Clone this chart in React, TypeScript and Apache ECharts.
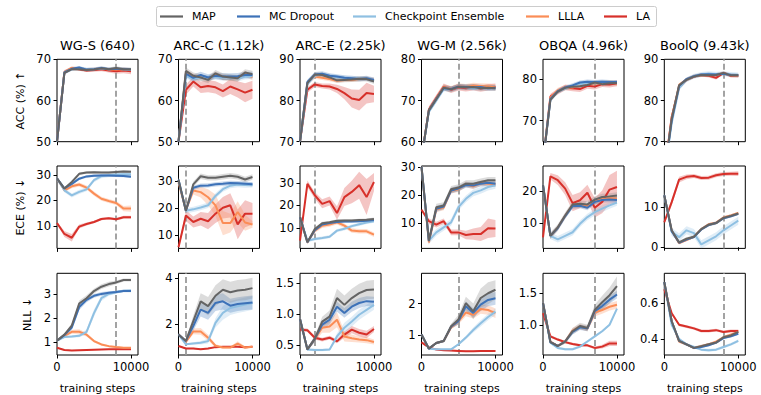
import React, { useEffect, useRef } from "react";
import * as echarts from "echarts";

const STEPS = [0, 1000, 2000, 3000, 4000, 5000, 6000, 7000, 8000, 9000, 10000];
const METHODS = ["MAP", "MC Dropout", "Checkpoint Ensemble", "LLLA", "LA"];
const KEYS = ["map", "mc", "ce", "llla", "la"];
const COLORS = ["#646464", "#3d72b8", "#8fc0e2", "#fb8d56", "#d7302a"];
const BAND_COLORS = ["#8c8c8c", "#3d72b8", "#8fc0e2", "#fb8d56", "#d7302a"];
const DATASETS = ["WG-S (640)", "ARC-C (1.12k)", "ARC-E (2.25k)", "WG-M (2.56k)", "OBQA (4.96k)", "BoolQ (9.43k)"];
const BEST_STEP = [8000, 1000, 2000, 5000, 7000, 8000];
const ROW_LABELS = ["ACC (%) ↑", "ECE (%) ↓", "NLL ↓"];
const X_TICKS = [0, 10000];

// ---------- ACC ----------
const accWGS = {
  map: [50, 66.7, 67.6, 67.6, 67.4, 67.5, 67.8, 67.6, 67.9, 67.6, 67.6],
  mc: [50, 66.8, 67.7, 68.0, 67.5, 67.6, 67.9, 67.6, 67.7, 67.6, 67.5],
  ce: [50, 66.8, 67.6, 67.8, 67.6, 67.6, 67.8, 67.6, 67.7, 67.6, 67.5],
  llla: [50, 66.9, 67.9, 67.7, 67.5, 67.6, 67.8, 67.5, 67.6, 67.5, 67.4],
  la: [50, 66.9, 67.8, 67.6, 67.3, 67.4, 67.6, 67.3, 67.1, 67.3, 67.1],
};
const accARCC = {
  map: [50, 67.2, 66.0, 65.6, 65.0, 66.6, 65.8, 65.6, 65.4, 66.8, 66.4],
  mc: [50, 66.5, 65.5, 66.2, 65.6, 66.0, 65.8, 65.8, 65.9, 66.2, 66.2],
  ce: [50, 66.0, 65.3, 65.5, 65.5, 65.8, 65.5, 65.6, 65.3, 65.8, 65.9],
  llla: [50, 66.8, 65.8, 65.6, 65.2, 66.3, 65.6, 65.5, 65.3, 66.5, 65.6],
  la: [50, 62.6, 64.6, 63.2, 63.5, 63.2, 62.3, 63.4, 62.7, 61.9, 62.6],
};
const accARCE = {
  map: [70, 84.2, 86.3, 86.2, 85.6, 84.9, 85.0, 85.1, 85.3, 85.2, 84.6],
  mc: [70, 84.5, 86.3, 86.5, 86.0, 85.8, 85.5, 85.4, 85.2, 85.4, 85.0],
  ce: [70, 84.0, 86.0, 86.3, 86.0, 85.7, 85.5, 85.3, 85.3, 85.3, 85.0],
  llla: [70, 84.3, 85.8, 85.5, 85.2, 84.8, 85.0, 85.0, 85.2, 85.3, 85.0],
  la: [70, 82.6, 83.9, 83.5, 83.4, 82.8, 81.8, 80.5, 80.1, 81.8, 81.6],
};
const accWGM = {
  map: [56, 67.6, 70.3, 73.1, 72.7, 73.3, 73.2, 73.3, 73.0, 73.1, 73.0],
  mc: [56, 67.6, 70.4, 73.0, 72.8, 73.4, 73.3, 73.2, 73.3, 73.0, 73.1],
  ce: [56, 67.3, 70.0, 72.8, 72.7, 73.3, 73.2, 73.0, 73.1, 73.0, 73.0],
  llla: [56, 67.7, 70.5, 73.2, 72.8, 73.5, 73.3, 73.6, 73.5, 73.4, 73.2],
  la: [56, 67.8, 70.6, 73.3, 72.6, 73.2, 73.0, 73.2, 72.9, 73.2, 73.3],
};
const accOBQA = {
  map: [60, 75.0, 77.0, 77.9, 78.2, 78.3, 78.6, 79.2, 78.8, 79.0, 79.1],
  mc: [60, 75.2, 77.1, 78.0, 78.5, 79.2, 79.4, 79.3, 79.4, 79.3, 79.3],
  ce: [60, 75.0, 77.0, 77.8, 78.3, 78.8, 79.0, 79.2, 79.3, 79.2, 79.2],
  llla: [60, 75.5, 77.3, 78.0, 78.0, 78.6, 78.8, 79.0, 79.0, 79.2, 79.0],
  la: [60, 75.8, 77.0, 78.0, 77.8, 77.6, 78.4, 78.2, 78.8, 78.7, 79.0],
};
const accBoolQ = {
  map: [62, 75.5, 83.7, 85.0, 85.8, 86.2, 86.1, 86.2, 86.7, 86.1, 86.1],
  mc: [62, 75.2, 83.5, 85.2, 85.9, 86.3, 86.4, 86.3, 86.5, 86.2, 86.1],
  ce: [62, 74.5, 83.0, 85.0, 85.9, 86.3, 86.5, 86.4, 86.5, 86.3, 86.2],
  llla: [62, 75.8, 83.8, 85.1, 85.9, 86.2, 86.1, 86.2, 86.6, 86.1, 86.0],
  la: [62, 76.0, 83.2, 85.0, 85.8, 86.2, 86.0, 85.5, 86.7, 86.0, 86.0],
};
const accWGS_band = [0.4, 0.4, 0.4, 0.4, [0.6, 0.5, 0.4, 0.4, 0.4, 0.4, 0.5, 0.5, 0.6, 0.7, 0.7]];
const accARCC_band = [0.8, 0.8, 0.7, 0.7, [0.5, 1.2, 1.2, 1.4, 1.5, 1.5, 1.6, 1.8, 2.0, 2.3, 2.2]];
const accARCE_band = [0.6, 0.6, 0.5, 0.5, [0.5, 0.7, 0.6, 0.6, 0.7, 1.0, 1.5, 2.2, 2.5, 2.5, 2.0]];
const accWGM_band = [0.7, 0.6, 0.6, 0.7, 0.8];
const accOBQA_band = [0.5, 0.5, 0.5, 0.6, 0.7];
const accBoolQ_band = [0.4, 0.4, 0.6, 0.4, 0.4];

// ---------- ECE ----------
const eceWGS = {
  map: [28.7, 24.7, 27.3, 30.5, 31.0, 31.1, 31.0, 31.0, 31.2, 31.4, 31.3],
  mc: [28.7, 24.8, 26.5, 28.6, 29.5, 29.8, 29.9, 29.9, 29.8, 29.7, 29.4],
  ce: [28.7, 24.0, 22.0, 23.4, 24.4, 28.0, 29.6, 30.0, 30.2, 30.3, 30.3],
  llla: [28.7, 24.0, 25.6, 26.3, 25.1, 22.7, 20.7, 19.8, 19.0, 16.8, 16.8],
  la: [11.1, 6.8, 5.3, 9.7, 10.7, 11.5, 12.7, 13.0, 12.6, 13.4, 13.4],
};
const eceARCC = {
  map: [30.5, 19.0, 28.8, 31.8, 31.2, 31.2, 31.6, 32.0, 31.6, 30.6, 31.5],
  mc: [30.5, 19.0, 27.5, 28.3, 28.4, 28.8, 29.0, 29.3, 29.2, 29.0, 28.8],
  ce: [30.5, 19.0, 19.5, 20.2, 21.0, 24.5, 27.0, 28.3, 28.7, 28.5, 28.6],
  llla: [29.5, 19.2, 26.5, 25.9, 24.0, 21.0, 14.4, 14.4, 18.5, 14.6, 13.9],
  la: [5.4, 17.2, 14.8, 16.0, 15.1, 17.9, 20.1, 21.0, 13.9, 17.9, 17.9],
};
const eceARCE = {
  map: [14.8, 3.6, 9.5, 12.1, 12.5, 13.2, 13.3, 13.3, 13.5, 13.6, 14.0],
  mc: [14.8, 3.6, 9.0, 11.5, 12.2, 12.6, 12.8, 12.9, 13.0, 13.2, 13.5],
  ce: [14.8, 4.3, 5.1, 5.5, 6.1, 8.8, 9.6, 10.8, 11.6, 12.4, 13.0],
  llla: [14.8, 3.6, 8.8, 11.0, 11.5, 12.5, 11.0, 8.8, 8.5, 8.5, 7.0],
  la: [4.3, 29.6, 24.5, 20.7, 21.9, 16.6, 23.7, 26.0, 29.0, 23.7, 30.4],
};
const eceWGM = {
  map: [30, 3.7, 15.6, 16.2, 22.0, 22.6, 24.0, 24.0, 24.6, 25.2, 25.2],
  mc: [30, 3.5, 15.0, 15.8, 21.5, 22.3, 23.5, 23.3, 24.0, 24.3, 24.0],
  ce: [30, 3.7, 6.6, 8.4, 10.2, 15.6, 18.6, 20.7, 21.6, 22.8, 23.4],
  llla: [30, 3.0, 14.8, 15.5, 21.5, 22.0, 23.8, 23.0, 24.2, 24.0, 23.8],
  la: [14.7, 10.6, 9.4, 10.6, 6.6, 6.6, 5.7, 6.0, 6.0, 8.1, 8.0],
};
const eceOBQA = {
  map: [21.8, 6.1, 8.7, 12.4, 15.8, 16.0, 15.8, 17.3, 18.1, 18.3, 18.6],
  mc: [21.8, 6.1, 8.5, 12.2, 15.3, 15.4, 14.8, 16.6, 17.2, 17.3, 17.2],
  ce: [21.8, 6.1, 5.0, 6.1, 7.2, 9.8, 11.9, 13.4, 14.5, 15.5, 16.4],
  llla: [21.8, 6.0, 8.6, 12.3, 15.6, 15.6, 15.3, 16.8, 17.5, 17.8, 17.6],
  la: [5.6, 24.5, 23.3, 20.7, 16.2, 17.1, 19.4, 14.8, 16.6, 20.4, 21.2],
};
const eceBoolQ = {
  map: [12.9, 4.2, 1.2, 2.1, 2.6, 4.5, 5.6, 6.0, 7.3, 7.8, 8.4],
  mc: [12.9, 4.0, 1.1, 1.9, 2.5, 4.4, 5.5, 6.0, 7.2, 7.7, 8.3],
  ce: [12.9, 3.8, 2.5, 4.2, 3.5, 0.7, 1.7, 2.7, 4.2, 5.4, 6.6],
  llla: [12.9, 4.1, 1.0, 1.8, 2.6, 4.5, 5.7, 6.1, 7.4, 7.9, 8.5],
  la: [6.2, 11.2, 16.8, 17.5, 17.7, 17.2, 17.3, 17.9, 18.2, 18.3, 18.3],
};
const eceWGS_band = [0.5, 0.5, 0.8, [0.3, 0.8, 0.8, 0.8, 0.8, 0.8, 0.8, 0.8, 0.8, 1.0, 1.2], [0.5, 1.2, 1.5, 0.8, 0.6, 0.5, 0.5, 0.5, 0.5, 0.6, 0.6]];
const eceARCC_band = [1.0, 0.8, 1.0, [0.5, 1.0, 1.5, 2.0, 3.0, 4.0, 4.5, 3.5, 4.0, 3.0, 1.2], [0.5, 2.0, 2.0, 2.5, 3.0, 3.5, 4.0, 4.5, 5.5, 5.0, 4.0]];
const eceARCE_band = [0.6, 0.6, 0.7, 1.0, [0.5, 1.5, 1.5, 2.0, 2.0, 3.0, 4.0, 5.0, 6.0, 8.0, 4.0]];
const eceWGM_band = [1.2, 1.0, 1.2, 1.0, [0.5, 1.0, 1.0, 1.0, 1.0, 1.0, 1.5, 2.0, 2.5, 3.5, 3.0]];
const eceOBQA_band = [1.0, 0.8, 1.0, 0.8, [0.5, 1.0, 1.5, 2.0, 2.5, 2.5, 2.5, 3.0, 3.5, 4.5, 5.0]];
const eceBoolQ_band = [0.4, 0.3, 1.0, 0.3, [0.5, 0.8, 0.7, 0.6, 0.5, 0.5, 0.5, 0.5, 0.5, 0.5, 0.6]];

// ---------- NLL ----------
const nllWGS = {
  map: [1.05, 1.3, 1.68, 2.6, 2.82, 3.12, 3.3, 3.41, 3.48, 3.58, 3.58],
  mc: [1.05, 1.28, 1.6, 2.45, 2.75, 2.92, 3.0, 3.05, 3.08, 3.12, 3.12],
  ce: [1.05, 1.2, 1.22, 1.25, 1.42, 2.2, 2.82, 3.0, 3.07, 3.13, 3.14],
  llla: [1.05, 1.25, 1.42, 1.42, 1.3, 1.03, 0.89, 0.82, 0.78, 0.75, 0.75],
  la: [0.75, 0.66, 0.64, 0.65, 0.66, 0.67, 0.68, 0.69, 0.69, 0.69, 0.69],
};
const nllARCC = {
  map: [1.57, 1.29, 2.14, 3.0, 2.79, 3.24, 3.5, 3.39, 3.47, 3.5, 3.57],
  mc: [1.57, 1.29, 1.93, 2.64, 2.5, 2.93, 3.0, 2.81, 2.88, 2.92, 2.95],
  ce: [1.57, 1.14, 1.18, 1.21, 1.28, 2.07, 2.5, 2.71, 2.79, 2.86, 2.93],
  llla: [1.57, 1.25, 1.7, 1.7, 1.43, 1.08, 1.0, 1.0, 1.17, 1.0, 1.04],
  la: [1.07, 0.96, 0.96, 0.93, 0.96, 1.02, 1.04, 1.04, 1.04, 1.02, 1.04],
};
const nllARCE = {
  map: [0.92, 0.43, 0.6, 0.88, 0.96, 1.26, 1.15, 1.26, 1.34, 1.39, 1.4],
  mc: [0.92, 0.43, 0.6, 0.83, 0.91, 1.12, 1.02, 1.12, 1.18, 1.21, 1.2],
  ce: [0.92, 0.43, 0.42, 0.42, 0.43, 0.64, 0.78, 0.88, 0.99, 1.07, 1.15],
  llla: [0.92, 0.43, 0.6, 0.78, 0.8, 0.91, 0.64, 0.61, 0.59, 0.58, 0.55],
  la: [0.75, 0.74, 0.62, 0.59, 0.62, 0.56, 0.67, 0.75, 0.7, 0.67, 0.76],
};
const nllWGM = {
  map: [1.03, 0.58, 0.76, 0.82, 1.29, 1.5, 2.02, 1.76, 2.18, 2.33, 2.44],
  mc: [1.03, 0.58, 0.76, 0.82, 1.27, 1.45, 1.92, 1.71, 1.97, 2.12, 2.17],
  ce: [1.03, 0.58, 0.56, 0.56, 0.56, 0.72, 0.93, 1.17, 1.38, 1.58, 1.75],
  llla: [1.03, 0.58, 0.76, 0.82, 1.25, 1.45, 1.72, 1.65, 1.83, 1.8, 1.7],
  la: [0.78, 0.62, 0.55, 0.53, 0.52, 0.51, 0.5, 0.5, 0.51, 0.51, 0.51],
};
const nllOBQA = {
  map: [1.35, 0.74, 0.68, 0.75, 0.91, 0.99, 0.96, 1.24, 1.36, 1.47, 1.61],
  mc: [1.35, 0.74, 0.68, 0.75, 0.9, 0.97, 0.95, 1.22, 1.3, 1.4, 1.48],
  ce: [1.35, 0.73, 0.65, 0.63, 0.63, 0.67, 0.75, 0.83, 0.91, 1.01, 1.26],
  llla: [1.35, 0.75, 0.68, 0.75, 0.92, 0.98, 0.95, 1.2, 1.24, 1.29, 1.32],
  la: [1.19, 0.83, 0.78, 0.74, 0.71, 0.69, 0.69, 0.65, 0.67, 0.72, 0.72],
};
const nllBoolQ = {
  map: [0.72, 0.5, 0.39, 0.37, 0.35, 0.36, 0.37, 0.38, 0.41, 0.42, 0.44],
  mc: [0.72, 0.5, 0.39, 0.37, 0.35, 0.355, 0.365, 0.38, 0.405, 0.415, 0.43],
  ce: [0.72, 0.48, 0.4, 0.37, 0.355, 0.34, 0.337, 0.34, 0.355, 0.37, 0.39],
  llla: [0.72, 0.5, 0.385, 0.37, 0.35, 0.36, 0.37, 0.385, 0.41, 0.425, 0.44],
  la: [0.68, 0.545, 0.48, 0.47, 0.46, 0.445, 0.445, 0.45, 0.44, 0.445, 0.445],
};
const nllWGS_band = [
  [0, 0.05, 0.1, 0.12, 0.12, 0.1, 0.1, 0.1, 0.08, 0.06, 0.06],
  [0, 0.05, 0.1, 0.12, 0.1, 0.08, 0.08, 0.06, 0.05, 0.05, 0.05],
  [0, 0.04, 0.05, 0.06, 0.1, 0.15, 0.12, 0.08, 0.06, 0.05, 0.05],
  [0, 0.05, 0.08, 0.1, 0.08, 0.06, 0.05, 0.04, 0.04, 0.03, 0.03],
  0.02,
];
const nllARCC_band = [
  [0.05, 0.05, 0.25, 0.35, 0.4, 0.45, 0.45, 0.45, 0.45, 0.45, 0.45],
  [0.05, 0.05, 0.2, 0.3, 0.3, 0.35, 0.35, 0.3, 0.3, 0.3, 0.3],
  [0.05, 0.04, 0.05, 0.08, 0.1, 0.2, 0.3, 0.3, 0.3, 0.3, 0.3],
  [0.05, 0.05, 0.12, 0.15, 0.12, 0.08, 0.05, 0.05, 0.1, 0.06, 0.05],
  0.03,
];
const nllARCE_band = [
  [0.03, 0.02, 0.05, 0.08, 0.1, 0.15, 0.15, 0.15, 0.15, 0.15, 0.15],
  [0.03, 0.02, 0.05, 0.06, 0.08, 0.08, 0.08, 0.08, 0.08, 0.08, 0.08],
  [0.03, 0.02, 0.02, 0.02, 0.02, 0.05, 0.08, 0.08, 0.08, 0.08, 0.08],
  [0.03, 0.02, 0.05, 0.08, 0.1, 0.12, 0.08, 0.06, 0.05, 0.05, 0.04],
  [0.03, 0.03, 0.03, 0.03, 0.03, 0.03, 0.05, 0.06, 0.06, 0.06, 0.05],
];
const nllWGM_band = [
  [0.02, 0.02, 0.04, 0.04, 0.08, 0.15, 0.2, 0.25, 0.3, 0.35, 0.3],
  [0.02, 0.02, 0.04, 0.04, 0.06, 0.1, 0.15, 0.15, 0.2, 0.2, 0.2],
  [0.02, 0.02, 0.02, 0.02, 0.02, 0.04, 0.06, 0.08, 0.1, 0.1, 0.1],
  [0.02, 0.02, 0.04, 0.04, 0.06, 0.1, 0.12, 0.12, 0.15, 0.15, 0.15],
  0.02,
];
const nllOBQA_band = [
  [0.02, 0.02, 0.02, 0.03, 0.05, 0.05, 0.05, 0.08, 0.1, 0.12, 0.15],
  [0.02, 0.02, 0.02, 0.03, 0.04, 0.04, 0.04, 0.06, 0.06, 0.06, 0.06],
  0.02,
  [0.02, 0.02, 0.02, 0.03, 0.04, 0.04, 0.04, 0.06, 0.06, 0.06, 0.06],
  [0.02, 0.02, 0.02, 0.02, 0.02, 0.02, 0.02, 0.02, 0.03, 0.04, 0.04],
];
const nllBoolQ_band = [0.008, 0.006, 0.008, 0.008, 0.008];

// ---------- axes ----------
const ACC_MIN = [50, 50, 70, 60, 64.9, 70];
const ACC_MAX = [70, 70, 90, 80, 84.8, 90];
const ACC_TICKS = [[50, 60, 70], [50, 60, 70], [70, 80, 90], [60, 70, 80], [70, 80], [70, 80, 90]];
const ECE_MIN = [1.1, 5.0, 0.9, 0.9, 2.2, -0.3];
const ECE_MAX = [33.6, 35.6, 37.5, 30.3, 27.7, 20.2];
const ECE_TICKS = [[10, 20, 30], [10, 20, 30], [10, 20, 30], [10, 20, 30], [10, 20], [0, 10]];
const NLL_MIN = [0.45, 0.68, 0.34, 0.38, 0.54, 0.31];
const NLL_MAX = [3.86, 4.21, 1.66, 2.96, 1.81, 0.77];
const NLL_TICKS = [[1, 2, 3], [2, 4], [0.5, 1.0, 1.5], [1, 2], [1.0, 1.5], [0.4, 0.6]];
const NLL_DEC = [0, 0, 1, 0, 1, 1];

const PANELS = [
  [accWGS, accARCC, accARCE, accWGM, accOBQA, accBoolQ],
  [eceWGS, eceARCC, eceARCE, eceWGM, eceOBQA, eceBoolQ],
  [nllWGS, nllARCC, nllARCE, nllWGM, nllOBQA, nllBoolQ],
];
const BANDS = [
  [accWGS_band, accARCC_band, accARCE_band, accWGM_band, accOBQA_band, accBoolQ_band],
  [eceWGS_band, eceARCC_band, eceARCE_band, eceWGM_band, eceOBQA_band, eceBoolQ_band],
  [nllWGS_band, nllARCC_band, nllARCE_band, nllWGM_band, nllOBQA_band, nllBoolQ_band],
];
const Y_MIN = [ACC_MIN, ECE_MIN, NLL_MIN];
const Y_MAX = [ACC_MAX, ECE_MAX, NLL_MAX];
const Y_TICKS = [ACC_TICKS, ECE_TICKS, NLL_TICKS];

const FONT = "DejaVu Sans";
const COL_LEFT = [57, 178.5, 300, 421.5, 543, 664.3];
const ROW_TOP = [59.3, 166, 273.3];
const PW = 81;
const PH = 82.4;
const X_MAX = 10950;

function buildOption() {
  const grid: any[] = [];
  const xAxis: any[] = [];
  const yAxis: any[] = [];
  const series: any[] = [];
  const graphic: any[] = [];

  for (let r = 0; r < 3; r++) {
    for (let c = 0; c < 6; c++) {
      const idx = r * 6 + c;
      grid.push({
        left: COL_LEFT[c], top: ROW_TOP[r], width: PW, height: PH,
        show: true, borderColor: "#000", borderWidth: 1, backgroundColor: "transparent",
      });
      xAxis.push({
        gridIndex: idx, type: "value", min: 0, max: X_MAX,
        axisLine: { show: false }, splitLine: { show: false },
        axisTick: { show: true, length: 3.5, lineStyle: { color: "#000", width: 1 }, customValues: X_TICKS },
        axisLabel: {
          show: r === 2, customValues: X_TICKS, margin: 6, fontSize: 11.5, color: "#000", fontFamily: FONT,
          formatter: (v: number) => String(Math.round(v)),
        },
        name: r === 2 ? "training steps" : "",
        nameLocation: "middle", nameGap: 28,
        nameTextStyle: { fontSize: 11, color: "#000", fontFamily: FONT },
      });
      const dec = r === 2 ? NLL_DEC[c] : 0;
      yAxis.push({
        gridIndex: idx, type: "value", min: Y_MIN[r][c], max: Y_MAX[r][c],
        axisLine: { show: false }, splitLine: { show: false },
        axisTick: { show: true, length: 3.5, lineStyle: { color: "#000", width: 1 }, customValues: Y_TICKS[r][c] },
        axisLabel: {
          customValues: Y_TICKS[r][c], margin: 6, fontSize: 11.5, color: "#000", fontFamily: FONT,
          formatter: (v: number) => v.toFixed(dec),
        },
      });

      const d: any = PANELS[r][c];
      const bands: any = BANDS[r][c];
      const order = [4, 3, 2, 1, 0];
      for (const k of order) {
        const vals: number[] = d[KEYS[k]];
        const s = bands[k];
        const lo = vals.map((v, i) => v - (Array.isArray(s) ? s[i] : s));
        const hi = vals.map((v, i) => v + (Array.isArray(s) ? s[i] : s));
        series.push({
          type: "custom", xAxisIndex: idx, yAxisIndex: idx, clip: true, silent: true, z: 1,
          data: [[STEPS[0], vals[0]]],
          renderItem: (_p: any, api: any) => {
            const pts: number[][] = [];
            for (let i = 0; i < STEPS.length; i++) pts.push(api.coord([STEPS[i], hi[i]]));
            for (let i = STEPS.length - 1; i >= 0; i--) pts.push(api.coord([STEPS[i], lo[i]]));
            return { type: "polygon", shape: { points: pts }, style: { fill: BAND_COLORS[k], opacity: k === 0 ? 0.3 : 0.28 } };
          },
        });
      }
      for (const k of order) {
        const vals: number[] = d[KEYS[k]];
        const s: any = {
          type: "line", name: METHODS[k], xAxisIndex: idx, yAxisIndex: idx,
          data: STEPS.map((x, i) => [x, vals[i]]),
          symbol: "none", showSymbol: false, clip: true, z: 3,
          lineStyle: { color: COLORS[k], width: 2 },
          itemStyle: { color: COLORS[k] },
        };
        if (k === 4) {
          s.markLine = {
            silent: true, symbol: "none", label: { show: false }, z: 2,
            lineStyle: { color: "#9a9a9a", width: 1.8, type: [6, 3] },
            data: [{ xAxis: BEST_STEP[c] }],
          };
        }
        series.push(s);
      }
    }
  }

  // titles
  for (let c = 0; c < 6; c++) {
    graphic.push({
      type: "text", x: COL_LEFT[c] + PW / 2, y: 45,
      style: { text: DATASETS[c], fontSize: 13, fontFamily: FONT, fill: "#000", align: "center", verticalAlign: "middle" },
    });
  }
  // row labels
  const rowLabelX = [20, 20.5, 27];
  for (let r = 0; r < 3; r++) {
    graphic.push({
      type: "text", x: rowLabelX[r], y: ROW_TOP[r] + PH / 2, rotation: Math.PI / 2,
      style: { text: ROW_LABELS[r], fontSize: 11, fontFamily: FONT, fill: "#000", align: "center", verticalAlign: "middle" },
    });
  }
  // legend
  graphic.push({
    type: "rect", shape: { x: 156.5, y: 6.5, width: 500, height: 20, r: 2 },
    style: { fill: "#fff", stroke: "#cccccc", lineWidth: 1 },
  });
  const legLine = [160, 237, 353, 526, 604];
  for (let k = 0; k < 5; k++) {
    graphic.push({
      type: "line", shape: { x1: legLine[k], y1: 16.5, x2: legLine[k] + 23, y2: 16.5 },
      style: { stroke: COLORS[k], lineWidth: 2.2 },
    });
    graphic.push({
      type: "text", x: legLine[k] + 32, y: 16.5,
      style: { text: METHODS[k], fontSize: 11, fontFamily: FONT, fill: "#000", align: "left", verticalAlign: "middle" },
    });
  }

  return {
    animation: false,
    backgroundColor: "#fff",
    textStyle: { fontFamily: FONT },
    grid, xAxis, yAxis, series, graphic,
  };
}

export default function App() {
  const ref = useRef<HTMLDivElement>(null);
  useEffect(() => {
    if (!ref.current) return;
    const chart = echarts.init(ref.current, undefined, { renderer: "svg" });
    chart.setOption(buildOption() as any);
    return () => chart.dispose();
  }, []);
  return <div ref={ref} style={{ position: "fixed", left: 0, top: 0, width: 761, height: 395 }} />;
}
